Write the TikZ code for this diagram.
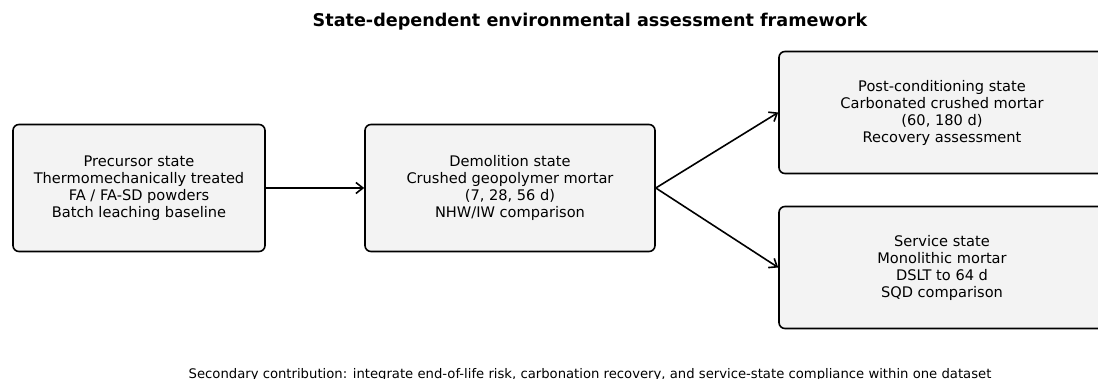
\documentclass[tikz,border=0pt]{standalone}
\usepackage{fontspec}
\setmainfont{DejaVu Sans}
\usetikzlibrary{arrows.meta}
\definecolor{boxfill}{HTML}{F3F3F3}
\tikzset{
  statebox/.style={draw=black, line width=1.6pt, fill=boxfill, rounded corners=6pt,
    align=center, inner sep=0pt, font=\fontsize{14.6}{17}\selectfont},
  flow/.style={draw=black, line width=1.6pt, -{Straight Barb[length=7pt,width=11pt,line width=1.6pt]}},
}
\begin{document}
\begin{tikzpicture}[x=1pt,y=-1pt]
\useasboundingbox (0,0) rectangle (1098,379);
\clip (0,0) rectangle (1098,379);
\fill[white] (0,0) rectangle (1098,379);
\node[font=\bfseries\fontsize{17.6}{21}\selectfont] (title) at (590,21.5) {State-dependent environmental assessment framework};
\node[statebox, minimum width=252pt, minimum height=127pt] (pre) at (139,188)
  {Precursor state\\Thermomechanically treated\\FA / FA-SD powders\\Batch leaching baseline};
\node[statebox, minimum width=290pt, minimum height=127pt] (dem) at (510,188)
  {Demolition state\\Crushed geopolymer mortar\\(7, 28, 56 d)\\NHW/IW comparison};
\node[statebox, minimum width=326pt, minimum height=122pt] (post) at (942,112.5)
  {Post-conditioning state\\Carbonated crushed mortar\\(60, 180 d)\\Recovery assessment};
\node[statebox, minimum width=326pt, minimum height=122pt] (serv) at (942,267.5)
  {Service state\\Monolithic mortar\\DSLT to 64 d\\SQD comparison};
\draw[flow] (pre.east) -- (dem.west);
\draw[flow] (dem.east) -- (post.west);
\draw[flow] (dem.east) -- (serv.west);
\node[font=\fontsize{13.2}{15}\selectfont] (note) at (590,375)
  {Secondary contribution: integrate end-of-life risk, carbonation recovery, and service-state compliance within one dataset};
\end{tikzpicture}
\end{document}
